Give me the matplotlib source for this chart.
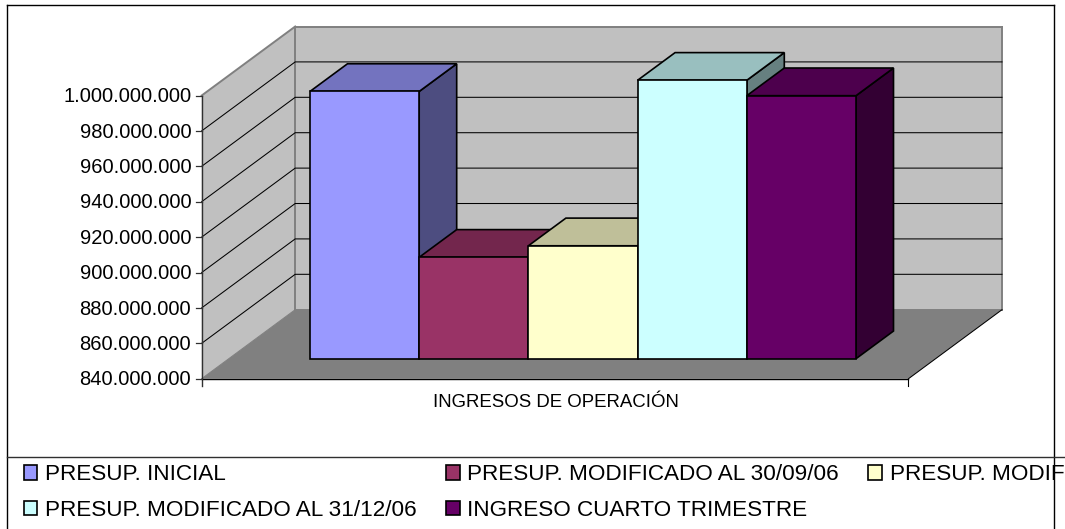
import matplotlib
matplotlib.use("Agg")
import matplotlib.pyplot as plt
from matplotlib.patches import Polygon, Patch, Rectangle

plt.rcParams['font.family'] = ['Liberation Sans', 'DejaVu Sans']

series_names = ["PRESUP. INICIAL", "PRESUP. MODIFICADO AL 30/09/06",
                "PRESUP. MODIFICADO AL 31/10/06", "PRESUP. MODIFICADO AL 31/12/06",
                "INGRESO CUARTO TRIMESTRE"]
series_values = [991_000_000, 897_300_000, 903_800_000, 997_300_000, 988_600_000]
series_colors = ["#9999FF", "#993366", "#FFFFCC", "#CCFFFF", "#660066"]
y_ticks = [840_000_000, 860_000_000, 880_000_000, 900_000_000, 920_000_000,
           940_000_000, 960_000_000, 980_000_000, 1_000_000_000]
category = "INGRESOS DE OPERACIÓN"

W, H = 1065, 529
BAR_PX, BASE_PX, LEFT_PX = 109.2, 358.7, 310.0
VALUE_PER_PX = 20_000_000 / 35.4
Y0 = y_ticks[0]

fig = plt.figure(figsize=(W / 100, H / 100), dpi=100)
ax = fig.add_axes([0, 0, 1, 1])
ax.set_xlim(-LEFT_PX / BAR_PX, (W - LEFT_PX) / BAR_PX)
ax.set_ylim(Y0 - (H - BASE_PX) * VALUE_PER_PX, Y0 + BASE_PX * VALUE_PER_PX)
ax.axis('off')

DX = 93.5 / BAR_PX
DY = 69 * VALUE_PER_PX
T_FRONT, T_BACK = 0.29, 0.691
X_L, X_R = -0.7436, 5.729


def proj(x, v, t):
    """Category/value/depth -> axes data coordinates."""
    return (x + (t - T_FRONT) * DX, v + (t - T_FRONT) * DY)


def px_x(n):
    return n / BAR_PX


def px_y(n):
    return n * VALUE_PER_PX


def poly(pts, fc, z, ec='none', lw=0):
    ax.add_patch(Polygon(pts, closed=True, facecolor=fc, edgecolor=ec, linewidth=lw,
                         joinstyle='miter', zorder=z))


def shade(hex_color, f):
    r, g, b = matplotlib.colors.to_rgb(hex_color)
    return (r * f, g * f, b * f)


vmin, vmax = y_ticks[0], y_ticks[-1]
# walls and floor
poly([proj(X_L, vmin, 0), proj(X_L, vmax, 0), proj(X_L, vmax, 1), proj(X_L, vmin, 1)], "#C0C0C0", 1)
poly([proj(X_L, vmin, 1), proj(X_L, vmax, 1), proj(X_R, vmax, 1), proj(X_R, vmin, 1)], "#C0C0C0", 1)
poly([proj(X_L, vmin, 0), proj(X_L, vmin, 1), proj(X_R, vmin, 1), proj(X_R, vmin, 0)], "#808080", 2)

for a, b in [((X_L, vmax, 0), (X_L, vmax, 1)), ((X_L, vmax, 1), (X_R, vmax, 1)),
             ((X_L, vmax, 1), (X_L, vmin, 1)), ((X_R, vmax, 1), (X_R, vmin, 1)),
             ((X_L, vmin, 1), (X_R, vmin, 1))]:
    p, q = proj(*a), proj(*b)
    ax.plot([p[0], q[0]], [p[1], q[1]], color="#808080", lw=1.4, zorder=3, solid_capstyle='projecting')

for v in y_ticks[1:-1]:
    p, q, r = proj(X_L, v, 0), proj(X_L, v, 1), proj(X_R, v, 1)
    ax.plot([p[0], q[0], r[0]], [p[1], q[1], r[1]], color="black", lw=0.75, zorder=3)

# axes
p, q = proj(X_L, vmin, 0), proj(X_L, vmax, 0)
ax.plot([p[0], q[0]], [p[1] - px_y(7), q[1]], color="#303030", lw=1.0, zorder=4)
p, q = proj(X_L, vmin, 0), proj(X_R, vmin, 0)
ax.plot([p[0], q[0]], [p[1], q[1]], color="black", lw=1.0, zorder=4)
ax.plot([q[0], q[0]], [q[1], q[1] - px_y(7)], color="black", lw=0.8, zorder=4)
r = proj(X_R, vmin, 1)
ax.plot([q[0], r[0]], [q[1], r[1]], color="black", lw=0.75, zorder=4)
p = proj(X_L, vmin, 0)
r = proj(X_L, vmin, 1)
ax.plot([p[0], r[0]], [p[1], r[1]], color="#808080", lw=0.75, zorder=3)

for v in y_ticks:
    p = proj(X_L, v, 0)
    ax.plot([p[0] - px_x(6), p[0]], [p[1], p[1]], color="#303030", lw=0.9, zorder=4)
    ax.text(p[0] - px_x(10.5), p[1] + px_y(0.8), f"{v:,}".replace(",", "."), ha='right',
            va='center_baseline', fontsize=14.5, color="black", zorder=5)

# bars
z = 10
for i, (val, col) in enumerate(zip(series_values, series_colors)):
    x0, x1 = float(i), float(i + 1)
    poly([proj(x1, Y0, T_FRONT), proj(x1, val, T_FRONT), proj(x1, val, T_BACK), proj(x1, Y0, T_BACK)],
         shade(col, 0.5), z, 'black', 1.2)
    poly([proj(x0, val, T_FRONT), proj(x0, val, T_BACK), proj(x1, val, T_BACK), proj(x1, val, T_FRONT)],
         shade(col, 0.75), z + 1, 'black', 1.2)
    ax.add_patch(Rectangle((x0, Y0), 1, val - Y0, facecolor=col, edgecolor='black', linewidth=1.2,
                           zorder=z + 2))
    z += 3

# category label
ax.text(2.250, Y0 - px_y(44), category, ha='center', va='center', fontsize=13.4, zorder=5)

# frame and legend separator (the frame has no bottom edge inside the picture)
for xs, ys in [([7, 7], [H, 5]), ([7, 1053.5], [5, 5]), ([1053.5, 1053.5], [5, H])]:
    fig.add_artist(plt.Line2D([x / W for x in xs], [1 - y / H for y in ys], color='black', lw=1.0,
                              transform=fig.transFigure))
fig.add_artist(plt.Line2D([7 / W, 1], [1 - 456.5 / H] * 2, color='#303030', lw=1.0,
                          transform=fig.transFigure))

# legend: filled column-wise, so order the entries to read row-wise
order = [0, 3, 1, 4, 2]
handles = [Patch(facecolor=series_colors[k], edgecolor='black', linewidth=1.2) for k in order]
labels = [series_names[k] for k in order]
fig.legend(handles, labels, ncol=3, loc='upper left', bbox_to_anchor=(23.5 / W, 1 - 464.5 / H),
           frameon=False, fontsize=16.2, handlelength=0.62, handleheight=0.62, handletextpad=0.34,
           labelspacing=0.64, columnspacing=1.29, borderaxespad=0, borderpad=0)

fig.savefig("out.png", dpi=100)
